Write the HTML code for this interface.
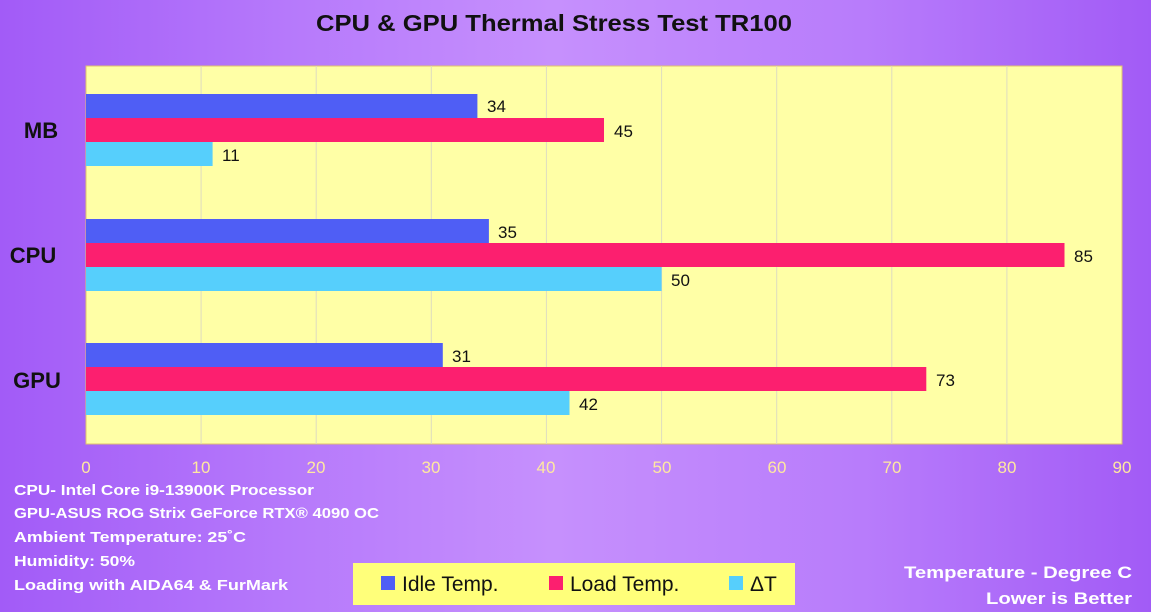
<!DOCTYPE html>
<html><head><meta charset="utf-8"><style>
html,body{margin:0;padding:0;width:1151px;height:612px;overflow:hidden}
body{background:linear-gradient(90deg,#a25bf7 0%,#b679fb 25%,#c690fd 48%,#b87cfb 75%,#a25bf6 100%)}
text{font-family:"Liberation Sans",sans-serif}
</style></head><body>
<svg width="1151" height="612" xmlns="http://www.w3.org/2000/svg">
<text x="554" y="31" text-anchor="middle" font-size="23" font-weight="bold" fill="#111" textLength="476" lengthAdjust="spacingAndGlyphs">CPU &amp; GPU Thermal Stress Test  TR100</text>
<rect x="86" y="66" width="1036" height="378" fill="#ffffa6" stroke="#e0c070" stroke-width="1"/>
<g stroke="#dedcc0" stroke-width="1">
<line x1="201.1" y1="66" x2="201.1" y2="444"/><line x1="316.2" y1="66" x2="316.2" y2="444"/><line x1="431.3" y1="66" x2="431.3" y2="444"/><line x1="546.4" y1="66" x2="546.4" y2="444"/><line x1="661.6" y1="66" x2="661.6" y2="444"/><line x1="776.7" y1="66" x2="776.7" y2="444"/><line x1="891.8" y1="66" x2="891.8" y2="444"/><line x1="1006.9" y1="66" x2="1006.9" y2="444"/>
</g>
<g>
<rect x="86" y="94" width="391.4" height="24" fill="#4f5ef5"/>
<rect x="86" y="118" width="518" height="24" fill="#fc1f6f"/>
<rect x="86" y="142" width="126.6" height="24" fill="#56cffc"/>
<rect x="86" y="219" width="402.9" height="24" fill="#4f5ef5"/>
<rect x="86" y="243" width="978.5" height="24" fill="#fc1f6f"/>
<rect x="86" y="267" width="575.6" height="24" fill="#56cffc"/>
<rect x="86" y="343" width="356.8" height="24" fill="#4f5ef5"/>
<rect x="86" y="367" width="840.3" height="24" fill="#fc1f6f"/>
<rect x="86" y="391" width="483.5" height="24" fill="#56cffc"/>
</g>
<g font-size="17" fill="#111">
<text x="487" y="112">34</text><text x="614" y="137">45</text><text x="222" y="161">11</text>
<text x="498" y="238">35</text><text x="1074" y="262">85</text><text x="671" y="286">50</text>
<text x="452" y="362">31</text><text x="936" y="386">73</text><text x="579" y="410">42</text>
</g>
<g font-size="22" font-weight="bold" fill="#111" text-anchor="middle">
<text x="41" y="138">MB</text><text x="33" y="263">CPU</text><text x="37" y="388">GPU</text>
</g>
<g font-size="17" fill="#ffe8a0" text-anchor="middle">
<text x="86" y="473">0</text><text x="201" y="473">10</text><text x="316" y="473">20</text><text x="431" y="473">30</text><text x="546" y="473">40</text><text x="662" y="473">50</text><text x="777" y="473">60</text><text x="892" y="473">70</text><text x="1007" y="473">80</text><text x="1122" y="473">90</text>
</g>
<g font-size="15" font-weight="bold" fill="#fff">
<text x="14" y="495" textLength="300" lengthAdjust="spacingAndGlyphs">CPU- Intel Core i9-13900K Processor</text>
<text x="14" y="518" textLength="365" lengthAdjust="spacingAndGlyphs">GPU-ASUS ROG Strix GeForce RTX® 4090 OC</text>
<text x="14" y="542" textLength="232" lengthAdjust="spacingAndGlyphs">Ambient Temperature: 25˚C</text>
<text x="14" y="566" textLength="121" lengthAdjust="spacingAndGlyphs">Humidity: 50%</text>
<text x="14" y="590" textLength="274" lengthAdjust="spacingAndGlyphs">Loading with AIDA64  &amp; FurMark</text>
</g>
<rect x="353" y="563" width="442" height="42" fill="#ffff7a"/>
<rect x="381" y="576" width="14" height="14" fill="#4f5ef5"/>
<text x="402" y="591" font-size="21" fill="#111">Idle Temp.</text>
<rect x="549" y="576" width="14" height="14" fill="#fc1f6f"/>
<text x="570" y="591" font-size="21" fill="#111">Load Temp.</text>
<rect x="729" y="576" width="14" height="14" fill="#56cffc"/>
<text x="750" y="591" font-size="21" fill="#111">ΔT</text>
<g font-size="17" font-weight="bold" fill="#fff" text-anchor="end">
<text x="1132" y="578" textLength="228" lengthAdjust="spacingAndGlyphs">Temperature - Degree C</text>
<text x="1132" y="604" textLength="146" lengthAdjust="spacingAndGlyphs">Lower is Better</text>
</g>
</svg>
</body></html>
